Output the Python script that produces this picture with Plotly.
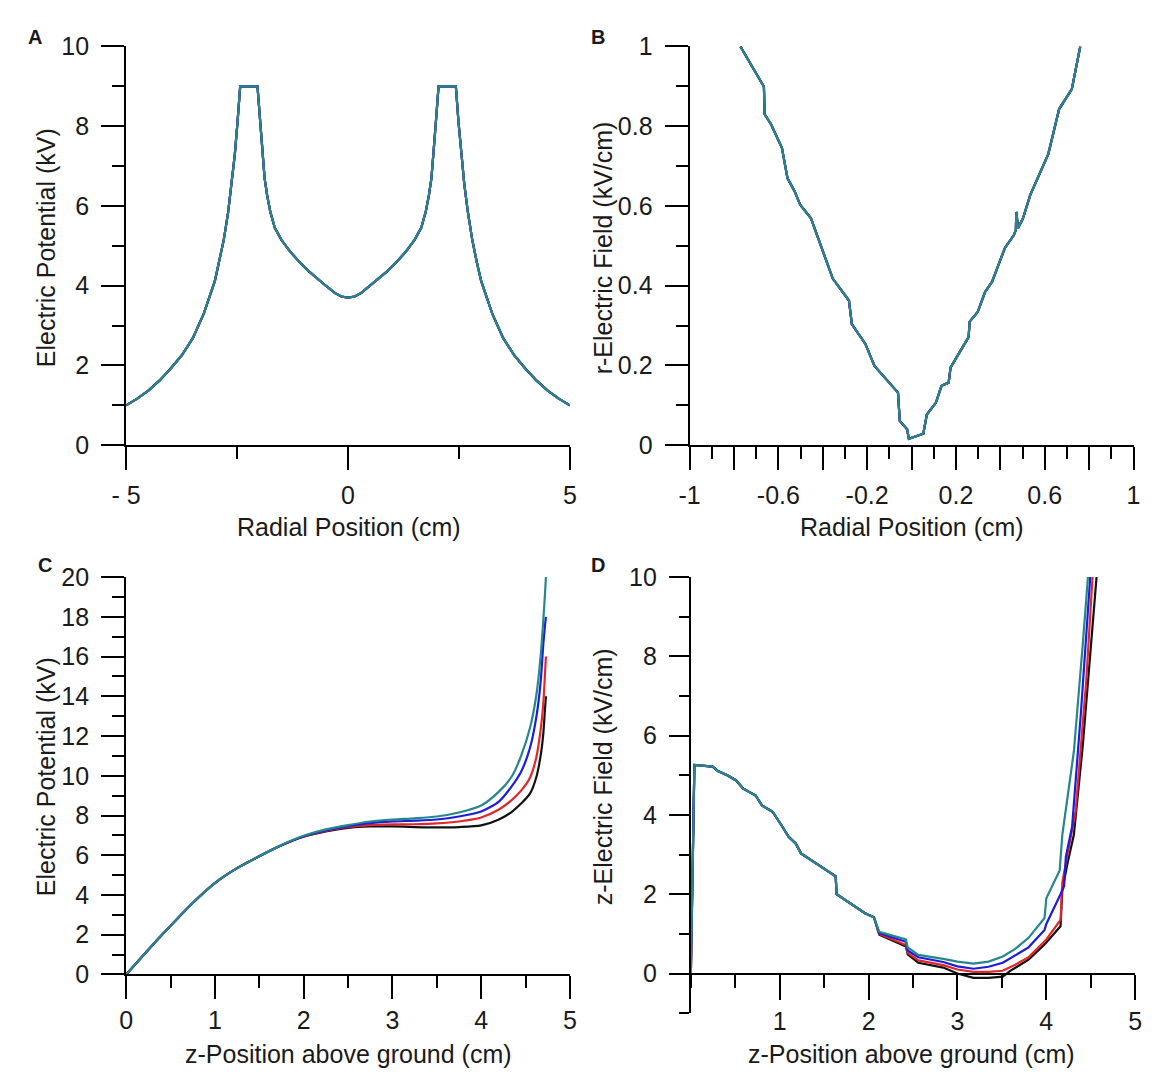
import plotly.graph_objects as go

# ---------------- data ----------------
# Panel A: electric potential vs radial position (all four runs coincide)
A_x = [-5.0, -4.75, -4.5, -4.25, -4.0, -3.75, -3.5, -3.25, -3.0, -2.9, -2.8, -2.7, -2.62, -2.55,
       -2.49, -2.43,
       -2.04, -1.98, -1.93, -1.88, -1.82, -1.75, -1.65, -1.5, -1.3, -1.1, -0.9, -0.7, -0.5, -0.3,
       -0.15, 0.0,
       0.15, 0.3, 0.5, 0.7, 0.9, 1.1, 1.3, 1.5, 1.65, 1.75, 1.82, 1.88, 1.93, 1.98, 2.04,
       2.43, 2.49, 2.55, 2.62, 2.7, 2.8, 2.9, 3.0, 3.25, 3.5, 3.75, 4.0, 4.25, 4.5, 4.75, 5.0]
A_y = [1.0, 1.17, 1.37, 1.62, 1.92, 2.25, 2.68, 3.3, 4.12, 4.6, 5.15, 5.85, 6.55, 7.3,
       8.1, 9.0,
       9.0, 8.1, 7.3, 6.7, 6.25, 5.85, 5.45, 5.15, 4.85, 4.6, 4.38, 4.18, 4.0, 3.82,
       3.73, 3.7,
       3.73, 3.82, 4.0, 4.18, 4.38, 4.6, 4.85, 5.15, 5.45, 5.85, 6.25, 6.7, 7.3, 8.1, 9.0,
       9.0, 8.1, 7.3, 6.55, 5.85, 5.15, 4.6, 4.12, 3.3, 2.68, 2.25, 1.92, 1.62, 1.37, 1.17, 1.0]

# Panel B: r-electric field vs radial position (all four runs coincide)
B_x = [-0.771, -0.665, -0.662, -0.633, -0.584, -0.559, -0.527, -0.502, -0.453, -0.404, -0.355,
       -0.282, -0.269, -0.208, -0.167, -0.061, -0.053, -0.020, -0.012, 0.053, 0.069, 0.110,
       0.135, 0.167, 0.176, 0.257, 0.262, 0.298, 0.331, 0.363, 0.420, 0.461, 0.470, 0.472,
       0.480, 0.502, 0.535, 0.616, 0.665, 0.722, 0.747, 0.760]
B_y = [1.0, 0.899, 0.830, 0.805, 0.746, 0.670, 0.637, 0.603, 0.569, 0.494, 0.418,
       0.363, 0.304, 0.254, 0.199, 0.132, 0.061, 0.040, 0.016, 0.029, 0.077, 0.107,
       0.149, 0.157, 0.195, 0.271, 0.310, 0.334, 0.384, 0.410, 0.494, 0.527, 0.540, 0.585,
       0.545, 0.569, 0.628, 0.730, 0.843, 0.893, 0.965, 1.0]

# Panel C: electric potential vs z-position
C_x = [0.0, 0.25, 0.5, 0.75, 1.0, 1.25, 1.5, 1.75, 2.0, 2.25, 2.5, 2.75, 3.0, 3.25, 3.5, 3.75,
       4.0, 4.2, 4.35, 4.45, 4.55, 4.62, 4.67, 4.70, 4.72, 4.73]
C_black = [0.0, 1.25, 2.45, 3.6, 4.6, 5.35, 5.95, 6.5, 6.93, 7.2, 7.38, 7.45, 7.45, 7.42, 7.4, 7.42,
           7.5, 7.8, 8.2, 8.6, 9.1, 9.9, 11.0, 12.1, 13.4, 14.0]
C_red = [0.0, 1.25, 2.45, 3.6, 4.6, 5.35, 5.95, 6.5, 6.94, 7.22, 7.42, 7.52, 7.55, 7.56, 7.6, 7.7,
         7.9, 8.3, 8.8, 9.25, 9.9, 10.9, 12.3, 13.6, 15.2, 16.0]
C_blue = [0.0, 1.25, 2.45, 3.6, 4.6, 5.35, 5.95, 6.5, 6.96, 7.25, 7.47, 7.62, 7.7, 7.74, 7.8, 7.95,
          8.2, 8.7, 9.5, 10.2, 11.4, 12.9, 14.7, 16.6, 17.6, 18.0]
C_teal = [0.0, 1.25, 2.45, 3.6, 4.6, 5.35, 5.95, 6.52, 6.98, 7.3, 7.52, 7.7, 7.8, 7.86, 7.95, 8.15,
          8.5, 9.2, 10.0, 11.0, 12.4, 14.0, 16.0, 17.8, 19.2, 20.0]

# Panel D: z-electric field vs z-position (shared start, then four tails)
D_x_common = [0.0, 0.04, 0.245, 0.31, 0.41, 0.51, 0.59, 0.73, 0.80, 0.92, 1.02, 1.10,
              1.18, 1.24, 1.63, 1.64, 1.96, 2.06]
D_y_common = [0.0, 5.26, 5.22, 5.1, 5.0, 4.87, 4.66, 4.49, 4.24, 4.08, 3.74, 3.45,
              3.28, 3.03, 2.45, 2.0, 1.52, 1.42]
D_black_x = [2.12, 2.42, 2.44, 2.56, 2.84, 3.0, 3.18, 3.35, 3.51, 3.59, 3.80, 3.98, 4.16, 4.18,
             4.24, 4.31, 4.41, 4.49, 4.57, 4.62]
D_black_y = [0.98, 0.68, 0.48, 0.27, 0.15, 0.0, -0.11, -0.11, -0.08, 0.06, 0.35, 0.73, 1.19, 2.1,
             2.8, 3.5, 5.75, 7.84, 10.0, 11.5]
D_red_x = [2.12, 2.42, 2.44, 2.56, 2.84, 3.0, 3.18, 3.35, 3.51, 3.65, 3.80, 4.0, 4.16, 4.18,
           4.33, 4.45, 4.52, 4.57]
D_red_y = [1.0, 0.72, 0.52, 0.33, 0.21, 0.10, 0.04, 0.04, 0.07, 0.22, 0.41, 0.86, 1.35, 2.3,
           4.1, 7.4, 10.0, 11.5]
D_blue_x = [2.12, 2.42, 2.44, 2.56, 2.84, 3.0, 3.18, 3.35, 3.51, 3.65, 3.80, 3.98, 4.0, 4.16,
            4.2, 4.22, 4.29, 4.39, 4.49, 4.54]
D_blue_y = [1.02, 0.80, 0.58, 0.41, 0.29, 0.18, 0.12, 0.17, 0.27, 0.45, 0.66, 1.10, 1.25, 2.0,
            2.2, 2.95, 3.7, 6.6, 10.0, 11.5]
D_teal_x = [2.12, 2.42, 2.44, 2.56, 2.84, 3.0, 3.18, 3.35, 3.51, 3.65, 3.80, 3.98, 4.0, 4.15,
            4.18, 4.31, 4.41, 4.47, 4.52]
D_teal_y = [1.05, 0.86, 0.66, 0.47, 0.37, 0.30, 0.25, 0.30, 0.43, 0.62, 0.90, 1.40, 1.90, 2.6,
            3.5, 5.6, 8.3, 10.0, 11.5]

# tick labels
A_xticks = [-5, 0, 5]
A_xticktext = ["- 5", "0", "5"]
B_xticks = [-1, -0.8, -0.6, -0.4, -0.2, 0, 0.2, 0.4, 0.6, 0.8, 1]
B_xticktext = ["-1", "", "-0.6", "", "-0.2", "", "0.2", "", "0.6", "", "1"]
B_yticks = [0, 0.2, 0.4, 0.6, 0.8, 1]
B_yticktext = ["0", "0.2", "0.4", "0.6", "0.8", "1"]

# ---------------- styling ----------------
W, H = 1152, 1082
COLORS = {"black": "#111111", "red": "#e3262b", "blue": "#1c1cdc", "teal": "#26878b"}
FONT = "Liberation Sans, Arial, sans-serif"
TICKFONT = dict(family=FONT, size=25, color="#1a1a1a")
LW = 2.2


def px_x(x):
    return x / W


def px_y(y):
    return 1 - y / H


def axis_style(**kw):
    d = dict(showline=True, linecolor="black", linewidth=2, ticks="outside", tickwidth=2,
             tickcolor="black", ticklen=23, showgrid=False, zeroline=False,
             tickfont=TICKFONT, fixedrange=True)
    d.update(kw)
    return d


fig = go.Figure()


def add_line(x, y, color, xa, ya, shape="linear"):
    fig.add_trace(go.Scatter(x=x, y=y, mode="lines", xaxis=xa, yaxis=ya, showlegend=False,
                             line=dict(color=COLORS[color], width=LW, shape=shape,
                                       smoothing=0.7 if shape == "spline" else None),
                             hoverinfo="skip"))


# Panel A
for c in ["black", "red", "blue", "teal"]:
    add_line(A_x, A_y, c, "x", "y")
# Panel B
for c in ["black", "red", "blue", "teal"]:
    add_line(B_x, B_y, c, "x2", "y2")
# Panel C
for c, ys in [("black", C_black), ("red", C_red), ("blue", C_blue), ("teal", C_teal)]:
    add_line(C_x, ys, c, "x3", "y3", shape="spline")
# Panel D
for c, tx, ty in [("black", D_black_x, D_black_y), ("red", D_red_x, D_red_y),
                  ("blue", D_blue_x, D_blue_y), ("teal", D_teal_x, D_teal_y)]:
    add_line(D_x_common + tx, D_y_common + ty, c, "x4", "y4")

# domains (pixel measurements of the reference)
A_dx = [px_x(113.3), px_x(565.7)]
B_dx = [px_x(687.7), px_x(1140.3)]
C_dx = [px_x(113.3), px_x(565.7)]
D_dx = [px_x(689.0), px_x(1142.0)]
top_dy = [px_y(442.7), px_y(33.3)]
C_dy = [px_y(986.0), px_y(578.0)]
D_dy = [px_y(1025.7), px_y(578.0)]

MINOR = dict(ticks="outside", ticklen=12, tickwidth=2, tickcolor="black")
YSO = 7   # y tick-label standoff
XSO_TOP = 4
XSO_BOT = 0

fig.update_layout(
    width=W, height=H, margin=dict(l=0, r=0, t=0, b=0), autosize=False,
    paper_bgcolor="white", plot_bgcolor="white",
    xaxis=axis_style(domain=A_dx, anchor="y", range=[-5, 5], tickvals=A_xticks,
                     ticktext=A_xticktext, ticklabelstandoff=XSO_TOP,
                     minor=dict(MINOR, tick0=-5, dtick=2.5)),
    yaxis=axis_style(domain=top_dy, anchor="x", range=[0, 10], tickvals=[0, 2, 4, 6, 8, 10],
                     ticklabelstandoff=YSO, minor=dict(MINOR, tick0=0, dtick=1)),
    xaxis2=axis_style(domain=B_dx, anchor="y2", range=[-1, 1], tickvals=B_xticks,
                      ticktext=B_xticktext, ticklabelstandoff=XSO_TOP,
                      minor=dict(MINOR, tick0=-1, dtick=0.1)),
    yaxis2=axis_style(domain=top_dy, anchor="x2", range=[0, 1], tickvals=B_yticks,
                      ticktext=B_yticktext, ticklabelstandoff=YSO,
                      minor=dict(MINOR, tick0=0, dtick=0.1)),
    xaxis3=axis_style(domain=C_dx, anchor="y3", range=[0, 5], tickvals=[0, 1, 2, 3, 4, 5],
                      ticklen=23, ticklabelstandoff=XSO_BOT,
                      minor=dict(MINOR, tick0=0, dtick=0.5)),
    yaxis3=axis_style(domain=C_dy, anchor="x3", range=[0, 20],
                      tickvals=[0, 2, 4, 6, 8, 10, 12, 14, 16, 18, 20], ticklabelstandoff=YSO,
                      minor=dict(MINOR, tick0=0, dtick=1)),
    xaxis4=axis_style(domain=D_dx, anchor="free", position=px_y(985.0), range=[0, 5],
                      tickvals=[1, 2, 3, 4, 5], ticklen=25, ticklabelstandoff=XSO_BOT,
                      minor=dict(MINOR, ticklen=13, tick0=0, dtick=0.5)),
    yaxis4=axis_style(domain=D_dy, anchor="x4", range=[-1, 10], tickvals=[0, 2, 4, 6, 8, 10],
                      ticklen=20, ticklabelstandoff=YSO,
                      minor=dict(MINOR, ticklen=10, tick0=0, dtick=1)),
)

TITLEFONT = dict(family=FONT, size=25, color="#1a1a1a")
LETTERFONT = dict(family=FONT, size=20, color="#1a1a1a")


def annot(text, x, y, angle=0, font=TITLEFONT, xanchor="center"):
    fig.add_annotation(text=text, x=px_x(x), y=px_y(y), xref="paper", yref="paper",
                       showarrow=False, textangle=angle, font=font,
                       xanchor=xanchor, yanchor="middle")


annot("Radial Position (cm)", 340, 527)
annot("Radial Position (cm)", 914, 527)
annot("z-Position above ground (cm)", 340, 1068)
annot("z-Position above ground (cm)", 914, 1068)
annot("Electric Potential (kV)", 31, 240, angle=-90)
annot("r-Electric Field (kV/cm)", 599, 240, angle=-90)
annot("Electric Potential (kV)", 31, 783, angle=-90)
annot("z-Electric Field (kV/cm)", 599, 783, angle=-90)
annot("<b>A</b>", 11, 24, font=LETTERFONT, xanchor="left")
annot("<b>B</b>", 585, 24, font=LETTERFONT, xanchor="left")
annot("<b>C</b>", 21, 566, font=LETTERFONT, xanchor="left")
annot("<b>D</b>", 585, 566, font=LETTERFONT, xanchor="left")

fig.write_html("out.html")
